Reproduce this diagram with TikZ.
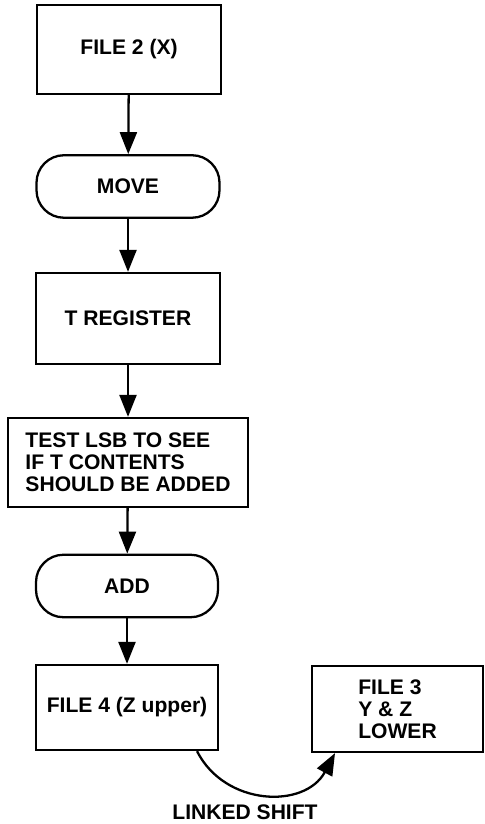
\documentclass[tikz,border=0pt]{standalone}
\usepackage{fontspec}
\setmainfont{Liberation Sans}
\usepackage{tikz}
\usetikzlibrary{positioning}
\usetikzlibrary{arrows.meta}

\begin{document}
\begin{tikzpicture}[
		filebox/.style={draw, line width=1.3pt, minimum width=3.68cm, minimum height=1.78cm, font=\bfseries\fontsize{12}{12.5}\selectfont},
		opbox/.style={draw, line width=1.3pt, rounded corners=0.55cm, minimum width=3.66cm, minimum height=1.25cm, font=\bfseries\fontsize{12}{12.5}\selectfont},
		flow/.style={-{Triangle[length=0.44cm, width=0.34cm]}, line width=1.3pt}
	]
			% Page frame
			\useasboundingbox (0,0) rectangle (9.7,16.48);

			% Main column
			\node[filebox] (file2) at (2.58,15.49) {FILE 2 (X)};
			\node[opbox] (move) at (2.56,12.75) {MOVE};
			\node[filebox, minimum height=1.82cm] (treg) at (2.56,10.11) {T REGISTER};
			\node[filebox, minimum width=4.8cm, align=left] (test) at (2.56,7.23) {TEST LSB TO SEE\\IF T CONTENTS\\SHOULD BE ADDED};
			\node[opbox, minimum width=3.64cm] (add) at (2.54,4.76) {ADD};
			\node[filebox, minimum width=3.64cm, minimum height=1.70cm] (file4) at (2.54,2.33) {FILE 4 (Z upper)};

			% Side box
			\node[filebox, minimum width=3.42cm, minimum height=1.72cm, align=left] (file3) at (7.95,2.30) {FILE 3\\Y \& Z\\LOWER};

			% Flow arrows
			\draw[flow] (file2) -- (move);
			\draw[flow] (move) -- (treg);
			\draw[flow] (treg) -- (test);
			\draw[flow] (test) -- (add);
			\draw[flow] (add) -- (file4);

			% Linked shift
			\draw[flow] ([xshift=1.4cm]file4.south) .. controls (4.5,0.35) and (6.1,0.3) .. ([xshift=-1.25cm]file3.south);
			\node[inner sep=1pt, font=\bfseries\fontsize{12}{12.5}\selectfont] (shift) at (4.9,0.24) {LINKED SHIFT};

		\end{tikzpicture}
\end{document}
